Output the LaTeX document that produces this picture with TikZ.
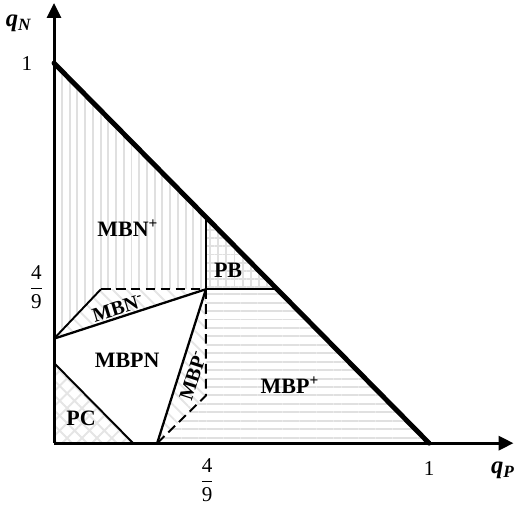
\documentclass[tikz,border=0pt]{standalone}
\usepackage{amsmath}
\usepackage{fontspec}
\setmainfont{Liberation Serif}
\usetikzlibrary{arrows.meta,patterns.meta}

\begin{document}
\begin{tikzpicture}[x=7.5cm,y=7.6cm,line join=round,
  axis/.style={line width=1.7pt,-{Triangle[length=8.5pt,width=8pt]}},
  edge/.style={line width=1.1pt},
  dashedge/.style={line width=1.1pt,dash pattern=on 5.5pt off 3pt},
  region/.style={font=\fontsize{12.5}{14}\selectfont\bfseries},
  slanted/.style={font=\fontsize{11.5}{13}\selectfont\bfseries,anchor=base,inner sep=0pt},
  tick/.style={font=\fontsize{12}{14}\selectfont},
  axlabel/.style={font=\fontsize{14}{16}\selectfont\bfseries\itshape},
  vlines/.style={pattern={Lines[angle=90,distance=4.4pt,line width=1.1pt]},pattern color=gray!24},
  hlines/.style={pattern={Lines[angle=0,distance=4.8pt,line width=1.1pt]},pattern color=gray!24},
  nwlines/.style={pattern={Lines[angle=-45,distance=5.5pt,line width=1.1pt]},pattern color=gray!20},
  gridlines/.style={pattern={Hatch[angle=0,distance=4.6pt,line width=1.1pt]},pattern color=gray!24},
  xlines/.style={pattern={Hatch[angle=45,distance=6pt,line width=1.1pt]},pattern color=gray!20}]
\useasboundingbox (-0.144,-0.163) rectangle (1.229,1.166);
% corner points
\coordinate (O) at (0,0);
\coordinate (N1) at (0,1);
\coordinate (P1) at (1,0);
\coordinate (Q) at (0.405,0.405);
\coordinate (Qn) at (0.405,0.595);
\coordinate (Qp) at (0.595,0.405);
\coordinate (Nm) at (0,0.275);
\coordinate (Nc) at (0.125,0.405);
\coordinate (Pm) at (0.275,0);
\coordinate (Pc) at (0.405,0.125);
\coordinate (Cn) at (0,0.211);
\coordinate (Cp) at (0.211,0);
\coordinate (Xend) at (1.225,0);
\coordinate (Yend) at (0,1.158);
% hatched regions
\fill[vlines] (N1) -- (Qn) -- (Q) -- (Nc) -- (Nm) -- cycle;
\fill[nwlines] (Nm) -- (Nc) -- (Q) -- cycle;
\fill[gridlines] (Qn) -- (Q) -- (Qp) -- cycle;
\fill[hlines] (Q) -- (Qp) -- (P1) -- (Pm) -- (Pc) -- cycle;
\fill[nwlines] (Q) -- (Pc) -- (Pm) -- cycle;
\fill[xlines] (O) -- (Cn) -- (Cp) -- cycle;
% boundaries
\draw[edge] (Qn) -- (Q) -- (Qp);
\draw[edge] (Nm) -- (Nc);
\draw[edge,line width=1.3pt] (Nm) -- (Q) -- (Pm);
\draw[edge] (Cn) -- (Cp);
\draw[dashedge] (Nc) -- (Q);
\draw[dashedge] (Q) -- (Pc) -- (Pm);
% axes and budget line
\draw[axis] (O) -- (Xend);
\draw[axis] (O) -- (Yend);
\draw[line width=2.8pt] (N1) -- (P1);
\fill (N1) circle (1.4pt);
\fill (P1) circle (1.4pt);
% labels
\node[region] (mbnp) at (0.197,0.566) {MBN\textsuperscript{+}};
\node[region] (pb) at (0.464,0.455) {PB};
\node[slanted,rotate=17] (mbnm) at (0.176,0.339) {MBN\textsuperscript{-}};
\node[region] (mbpn) at (0.195,0.218) {MBPN};
\node[slanted,rotate=72] (mbpm) at (0.388,0.172) {MBP\textsuperscript{-}};
\node[region] (mbpp) at (0.629,0.153) {MBP\textsuperscript{+}};
\node[region] (pc) at (0.072,0.066) {PC};
\node[tick] (n1) at (-0.072,1) {1};
\node[tick] (p1) at (1,-0.068) {1};
\node[tick] (nq) at (-0.047,0.41) {$\dfrac{\mbox{4}}{\mbox{9}}$};
\node[tick] (pq) at (0.408,-0.098) {$\dfrac{\mbox{4}}{\mbox{9}}$};
\node[axlabel] (qn) at (-0.094,1.105) {q\textsubscript{N}};
\node[axlabel] (qp) at (1.197,-0.071) {q\textsubscript{P}};
\end{tikzpicture}
\end{document}
